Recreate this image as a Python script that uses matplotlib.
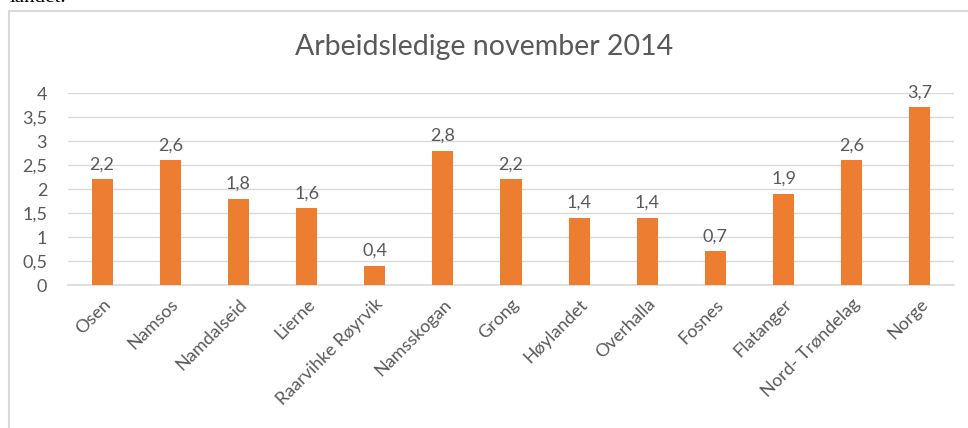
import matplotlib
matplotlib.use("Agg")
import matplotlib.pyplot as plt
from matplotlib.patches import Rectangle

KOMMUNER = ["Osen", "Namsos", "Namdalseid", "Lierne", "Raarvihke Røyrvik",
            "Namsskogan", "Grong", "Høylandet", "Overhalla", "Fosnes",
            "Flatanger", "Nord- Trøndelag", "Norge"]
LEDIGE = [2.2, 2.6, 1.8, 1.6, 0.4, 2.8, 2.2, 1.4, 1.4, 0.7, 1.9, 2.6, 3.7]
Y_TICKS = [0, 0.5, 1, 1.5, 2, 2.5, 3, 3.5, 4]

ORANGE = "#ED7D31"
GRID = "#D9D9D9"
TEXT = "#595959"


def komma(v):
    return f"{v:g}".replace(".", ",")


plt.rcParams["font.family"] = ["Lato", "DejaVu Sans"]

fig = plt.figure(figsize=(9.68, 4.28), dpi=100)

# chart frame (cut off by the screenshot on the right and bottom)
fig.patches.append(Rectangle((8.5 / 968, -0.1), 1.2, 1.1 - 11.5 / 428,
                             transform=fig.transFigure, fill=False,
                             edgecolor=GRID, lw=1.5))
fig.text(10 / 968, 1 - 2.5 / 428, "landet.", family="Liberation Serif",
         fontsize=15, va="baseline", ha="left", color="black")

ax = fig.add_axes([68 / 968, 1 - 285 / 428, 886 / 968, 192 / 428])
x = range(len(KOMMUNER))
bars = ax.bar(x, LEDIGE, width=0.31, color=ORANGE, zorder=3)
for b, v in zip(bars, LEDIGE):
    ax.annotate(komma(v), (b.get_x() + b.get_width() / 2, v), xytext=(0, 5),
                textcoords="offset points", ha="center", va="bottom",
                fontsize=13, color=TEXT)

ax.set_xlim(-0.5, len(KOMMUNER) - 0.5)
ax.set_ylim(0, 4)
ax.set_yticks(Y_TICKS)
ax.set_yticklabels([komma(t) for t in Y_TICKS])
ax.set_xticks(list(x))
ax.set_xticklabels(KOMMUNER, rotation=45, ha="right", rotation_mode="anchor")
ax.tick_params(axis="both", length=0, labelsize=13, colors=TEXT)
ax.tick_params(axis="x", pad=8)
ax.tick_params(axis="y", pad=15)
ax.grid(axis="y", color=GRID, lw=1, zorder=0)
for s in ("top", "right", "left"):
    ax.spines[s].set_visible(False)
ax.spines["bottom"].set_color(GRID)
ax.spines["bottom"].set_linewidth(1.2)

fig.text(484 / 968, 1 - 47 / 428, "Arbeidsledige november 2014",
         ha="center", va="center", fontsize=20.5, color=TEXT)

fig.savefig("out.png", dpi=100)
